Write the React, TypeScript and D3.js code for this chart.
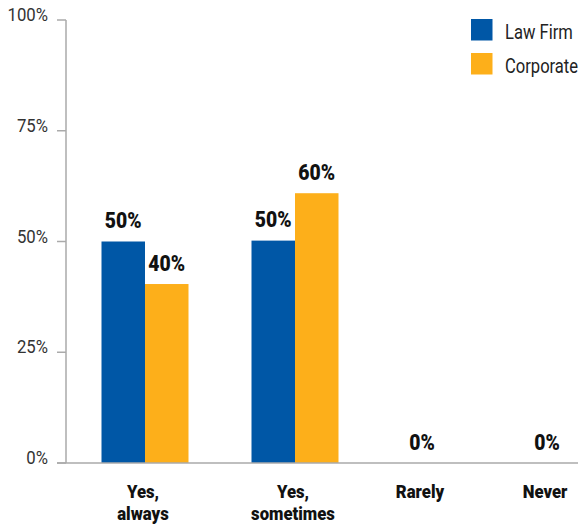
import React from "react";
import * as d3 from "d3";

const categories = ["Yes, always", "Yes, sometimes", "Rarely", "Never"];
const categoryLines = [["Yes,", "always"], ["Yes,", "sometimes"], ["Rarely"], ["Never"]];
const seriesNames = ["Law Firm", "Corporate"];
const lawFirm = [50, 50.2, 0, 0];
const corporate = [40.4, 60.9, 0, 0];
const lawFirmLabels = ["50%", "50%", "0%", "0%"];
const corporateLabels = ["40%", "60%", "0%", "0%"];
const yTicks = [0, 25, 50, 75, 100];

const W = 579;
const H = 529;
const COLORS = ["#0057A6", "#FDAF1A"];
const FONT = "Roboto, 'Liberation Sans', sans-serif";

function SText({ x, y, size, weight, sx, anchor, fill, children }: any) {
  return (
    <g transform={`translate(${x},${y}) scale(${sx},1)`}>
      <text fontFamily={FONT} fontSize={size} fontWeight={weight} textAnchor={anchor} fill={fill}>
        {children}
      </text>
    </g>
  );
}

export default function App() {
  const y = d3.scaleLinear().domain([0, 100]).range([463, 20]);
  const x = d3.scaleOrdinal<string, number>().domain(categories).range([145, 295, 422, 547]);
  const inner = d3.scaleBand<string>().domain(seriesNames).range([-43.5, 43.5]).padding(0);
  const axisX = 66;
  const values = [lawFirm, corporate];
  const labels = [lawFirmLabels, corporateLabels];

  return (
    <div>
      <style>{`body{margin:0}`}</style>
      <svg width={W} height={H} style={{ display: "block" }}>
        <rect width={W} height={H} fill="#fff" />
        {/* y axis */}
        <line x1={axisX} x2={axisX} y1={y(100)} y2={y(0)} stroke="#aaa" strokeWidth={1.5} />
        {yTicks.map((t) => (
          <g key={t}>
            <line x1={57} x2={axisX} y1={y(t)} y2={y(t)} stroke="#aaa" strokeWidth={1.5} />
            <SText x={48} y={y(t) + 1} size={18} weight={400} sx={0.93} anchor="end" fill="#333">
              {`${t}%`}
            </SText>
          </g>
        ))}
        {/* bars */}
        {categories.map((c, i) => (
          <g key={c}>
            {seriesNames.map((s, j) => {
              const v = values[j][i];
              if (v <= 0) return null;
              const bx = x(c) + (inner(s) as number);
              return (
                <g key={s}>
                  <rect x={bx} y={y(v)} width={inner.bandwidth()} height={y(0) - y(v)} fill={COLORS[j]} />
                  <SText x={bx + inner.bandwidth() / 2} y={y(v) - 13.5} size={22.5} weight={900} sx={0.86} anchor="middle" fill="#111">
                    {labels[j][i]}
                  </SText>
                </g>
              );
            })}
            {values.every((arr) => arr[i] === 0) && (
              <SText x={x(c)} y={y(0) - 13.5} size={22.5} weight={900} sx={0.86} anchor="middle" fill="#111">
                {labels[0][i]}
              </SText>
            )}
            {categoryLines[i].map((ln, k) => (
              <SText key={k} x={x(c) - 2} y={498 + k * 22} size={19} weight={900} sx={0.88} anchor="middle" fill="#111">
                {ln}
              </SText>
            ))}
          </g>
        ))}
        {/* x axis */}
        <line x1={57} x2={578} y1={y(0)} y2={y(0)} stroke="#aaa" strokeWidth={1.5} />
        {/* legend */}
        {seriesNames.map((s, j) => (
          <g key={s}>
            <rect x={471} y={19 + j * 34} width={21.5} height={21.5} fill={COLORS[j]} />
            <SText x={505} y={39 + j * 34} size={19.5} weight={400} sx={0.85} anchor="start" fill="#222">
              {s}
            </SText>
          </g>
        ))}
      </svg>
    </div>
  );
}
